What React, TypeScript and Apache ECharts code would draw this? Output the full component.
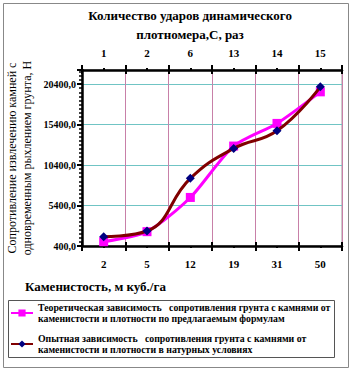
import React, { useEffect, useRef } from "react";
import * as echarts from "echarts";

const stoniness = ["2", "5", "12", "19", "31", "50"];
const blows = ["1", "2", "6", "13", "14", "15"];
const theoretical = [930, 2170, 6400, 12750, 15550, 19450];
const experimental = [1550, 2250, 8760, 12460, 14640, 20070];
const seriesNames = [
  "Теоретическая зависимость   сопротивления грунта с камнями от\nкаменистости и плотности по предлагаемым формулам",
  "Опытная зависимость   сопротивления грунта с камнями от\nкаменистости и плотности в натурных условиях",
];

const SERIF = "'Liberation Serif', 'DejaVu Serif', serif";

export default function App() {
  const ref = useRef<HTMLDivElement>(null);
  useEffect(() => {
    document.body.style.margin = "0";
    const chart = echarts.init(ref.current!, null, { renderer: "svg" });
    const tickLine = { color: "#000", width: 2 };
    chart.setOption({
      animation: false,
      backgroundColor: "#fff",
      textStyle: { fontFamily: SERIF },
      grid: {
        left: 82,
        right: 11,
        top: 70,
        bottom: 128,
        show: true,
        borderColor: "#999",
        borderWidth: 1,
      },
      legend: {
        orient: "vertical",
        left: 10,
        top: 296.5,
        padding: 0,
        itemGap: -2,
        itemWidth: 22,
        itemHeight: 9,
        borderWidth: 0,
        textStyle: {
          fontFamily: SERIF,
          fontWeight: "bold",
          fontSize: 9.8,
          lineHeight: 11,
          padding: [11, 0, 0, 0],
          color: "#000",
        },
        data: seriesNames,
      },
      graphic: [
        {
          type: "rect",
          shape: { x: 3.5, y: 3.5, width: 345, height: 364 },
          style: { fill: "none", stroke: "#888", lineWidth: 1 },
          silent: true,
        },
        {
          type: "rect",
          shape: { x: 8.5, y: 300.5, width: 326, height: 57 },
          style: { fill: "none", stroke: "#555", lineWidth: 1 },
          silent: true,
        },
        {
          type: "text",
          x: 190,
          y: 6,
          style: {
            text: "Количество ударов динамического\nплотномера,С, раз",
            fontFamily: SERIF,
            fontWeight: "bold",
            fontSize: 13,
            lineHeight: 19,
            textAlign: "center",
            fill: "#000",
          },
        },
        {
          type: "text",
          x: 19.5,
          y: 158,
          rotation: Math.PI / 2,
          style: {
            text: "Сопротивление извлечению камней с\nодновременным рыхлением грунта, Н",
            fontFamily: SERIF,
            fontSize: 12,
            lineHeight: 15,
            textAlign: "center",
            textVerticalAlign: "middle",
            fill: "#000",
          },
        },
        {
          type: "text",
          x: 25,
          y: 280,
          style: {
            text: "Каменистость, м куб./га",
            fontFamily: SERIF,
            fontWeight: "bold",
            fontSize: 13,
            fill: "#000",
          },
        },
      ],
      xAxis: [
        {
          type: "category",
          data: stoniness,
          position: "bottom",
          boundaryGap: true,
          axisLine: { lineStyle: { color: "#000", width: 2.5 } },
          axisTick: { show: true, length: 5, lineStyle: tickLine },
          axisLabel: {
            color: "#000",
            fontFamily: SERIF,
            fontWeight: "bold",
            fontSize: 11,
            margin: 12,
          },
          splitLine: { show: true, lineStyle: { color: "#c880a8", width: 1 } },
        },
        {
          type: "category",
          data: blows,
          position: "top",
          boundaryGap: true,
          axisLine: { lineStyle: { color: "#000", width: 2.5 } },
          axisTick: { show: true, length: 5, lineStyle: tickLine },
          axisLabel: {
            color: "#000",
            fontFamily: SERIF,
            fontWeight: "bold",
            fontSize: 11,
            margin: 12,
          },
          splitLine: { show: false },
        },
        {
          type: "category",
          data: stoniness,
          position: "bottom",
          boundaryGap: true,
          axisLine: { show: false },
          axisTick: { show: true, inside: true, length: 4, lineStyle: tickLine },
          axisLabel: { show: false },
          splitLine: { show: false },
        },
        {
          type: "category",
          data: blows,
          position: "top",
          boundaryGap: true,
          axisLine: { show: false },
          axisTick: { show: true, inside: true, length: 4, lineStyle: tickLine },
          axisLabel: { show: false },
          splitLine: { show: false },
        },
        {
          type: "category",
          data: stoniness,
          position: "bottom",
          boundaryGap: true,
          axisLine: { show: false },
          axisTick: { show: true, alignWithLabel: true, length: 2, lineStyle: tickLine },
          axisLabel: { show: false },
          splitLine: { show: false },
        },
        {
          type: "category",
          data: blows,
          position: "top",
          boundaryGap: true,
          axisLine: { show: false },
          axisTick: { show: true, alignWithLabel: true, length: 2, lineStyle: tickLine },
          axisLabel: { show: false },
          splitLine: { show: false },
        },
      ],
      yAxis: {
        type: "value",
        min: 400,
        max: 22150,
        interval: 5000,
        axisLine: { show: true, lineStyle: { color: "#000", width: 2.5 } },
        axisTick: { show: true, length: 5, lineStyle: tickLine },
        minorTick: { show: true, splitNumber: 10, length: 3, lineStyle: { color: "#000", width: 1.5 } },
        axisLabel: {
          showMaxLabel: false,
          color: "#000",
          fontFamily: SERIF,
          fontWeight: "bold",
          fontSize: 10,
          margin: 6,
          formatter: (v: number) => v.toFixed(1).replace(".", ","),
        },
        splitLine: { show: true, lineStyle: { color: "#70c4c4", width: 1.2 } },
      },
      series: [
        {
          name: seriesNames[0],
          type: "line",
          data: theoretical,
          smooth: 0.25,
          symbol: "rect",
          symbolSize: 9,
          lineStyle: { color: "#ff00ff", width: 3 },
          itemStyle: { color: "#ff00ff" },
          z: 3,
        },
        {
          name: seriesNames[1],
          type: "line",
          data: experimental,
          smooth: 0.45,
          symbol: "diamond",
          symbolSize: 9,
          lineStyle: { color: "#800000", width: 3 },
          itemStyle: { color: "#000080" },
          z: 4,
        },
      ],
    });
    return () => chart.dispose();
  }, []);
  return <div ref={ref} style={{ width: 353, height: 374 }} />;
}
